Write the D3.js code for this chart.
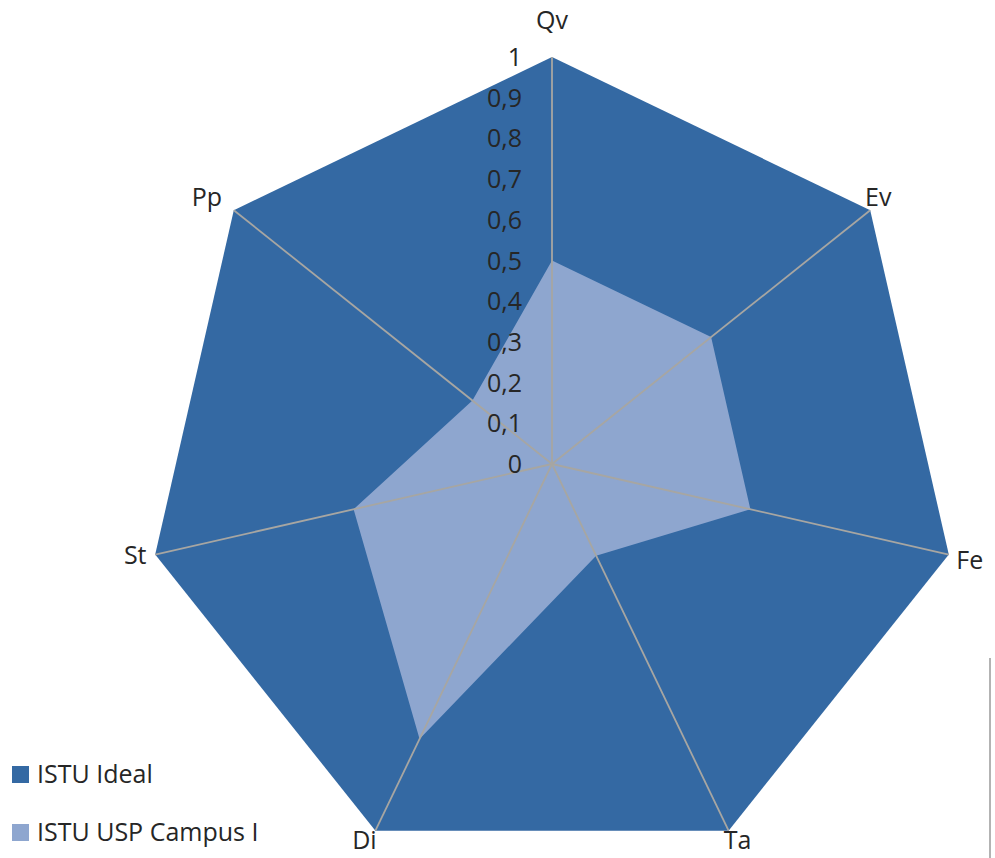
<!DOCTYPE html>
<html>
<head>
<meta charset="utf-8">
<script src="https://cdn.jsdelivr.net/npm/d3@7"></script>
<style>
  body { margin: 0; background: #fff; }
  svg text { font-family: "Open Sans", sans-serif; fill: #262626; }
</style>
</head>
<body>
<svg width="995" height="858"></svg>
<script>
var axes = ['Qv', 'Ev', 'Fe', 'Ta', 'Di', 'St', 'Pp'];
var ideal = [1, 1, 1, 1, 1, 1, 1];
var campus = [0.5, 0.5, 0.5, 0.25, 0.75, 0.5, 0.25];
var ticks = [0, 0.1, 0.2, 0.3, 0.4, 0.5, 0.6, 0.7, 0.8, 0.9, 1];
var seriesNames = ['ISTU Ideal', 'ISTU USP Campus I'];
var colors = ['#3469a3', '#8ea6cf'];

// label nudges away from each outer vertex (layout only)
var labelShift = {
    Qv: [0, -37], Ev: [8, -13], Fe: [21, 5], Ta: [9, 9],
    Di: [-11, 9], St: [-20, 0], Pp: [-27, -13]
};

var cx = 552, cy = 464, R = 407;

var svg = d3.select('svg');
var g = svg.append('g').attr('transform', 'translate(' + cx + ',' + cy + ')');

var r = d3.scaleLinear().domain([0, 1]).range([0, R]);
var angle = d3.scaleLinear().domain([0, axes.length]).range([0, 2 * Math.PI]);

function px(v, i) { return r(v) * Math.sin(angle(i)); }
function py(v, i) { return -r(v) * Math.cos(angle(i)); }

var radial = d3.lineRadial()
    .angle(function(d, i) { return angle(i); })
    .radius(function(d) { return r(d); })
    .curve(d3.curveLinearClosed);

// series areas
g.selectAll('.area')
    .data([ideal, campus])
  .enter().append('path')
    .attr('class', 'area')
    .attr('d', radial)
    .attr('fill', function(d, i) { return colors[i]; });

// spokes
g.selectAll('.spoke')
    .data(axes)
  .enter().append('line')
    .attr('class', 'spoke')
    .attr('x1', 0).attr('y1', 0)
    .attr('x2', function(d, i) { return px(1, i); })
    .attr('y2', function(d, i) { return py(1, i); })
    .attr('stroke', '#a7a6a2')
    .attr('stroke-width', 1.8);

// tick labels
g.selectAll('.tick')
    .data(ticks)
  .enter().append('text')
    .attr('class', 'tick')
    .attr('x', -30)
    .attr('y', function(d) { return -r(d); })
    .attr('dy', '0.36em')
    .attr('text-anchor', 'end')
    .style('font-size', '25px')
    .text(function(d) { return d3.format('.1~f')(d).replace('.', ','); });

// axis labels
g.selectAll('.axisLabel')
    .data(axes)
  .enter().append('text')
    .attr('class', 'axisLabel')
    .attr('x', function(d, i) { return px(1, i) + labelShift[d][0]; })
    .attr('y', function(d, i) { return py(1, i) + labelShift[d][1]; })
    .attr('dy', '0.36em')
    .attr('text-anchor', 'middle')
    .style('font-size', '25px')
    .text(function(d) { return d; });

// legend
var legend = svg.selectAll('.legend')
    .data(seriesNames)
  .enter().append('g')
    .attr('class', 'legend')
    .attr('transform', function(d, i) { return 'translate(12,' + (774 + i * 58) + ')'; });

legend.append('rect')
    .attr('x', 0).attr('y', -8)
    .attr('width', 17).attr('height', 17)
    .attr('fill', function(d, i) { return colors[i]; });

legend.append('text')
    .attr('x', 25)
    .attr('dy', '0.36em')
    .style('font-size', '25px')
    .text(function(d) { return d; });

// edge of neighbouring frame
svg.append('line')
    .attr('x1', 990).attr('x2', 990)
    .attr('y1', 658).attr('y2', 858)
    .attr('stroke', '#9a9a9a')
    .attr('stroke-width', 1.5);
</script>
</body>
</html>
